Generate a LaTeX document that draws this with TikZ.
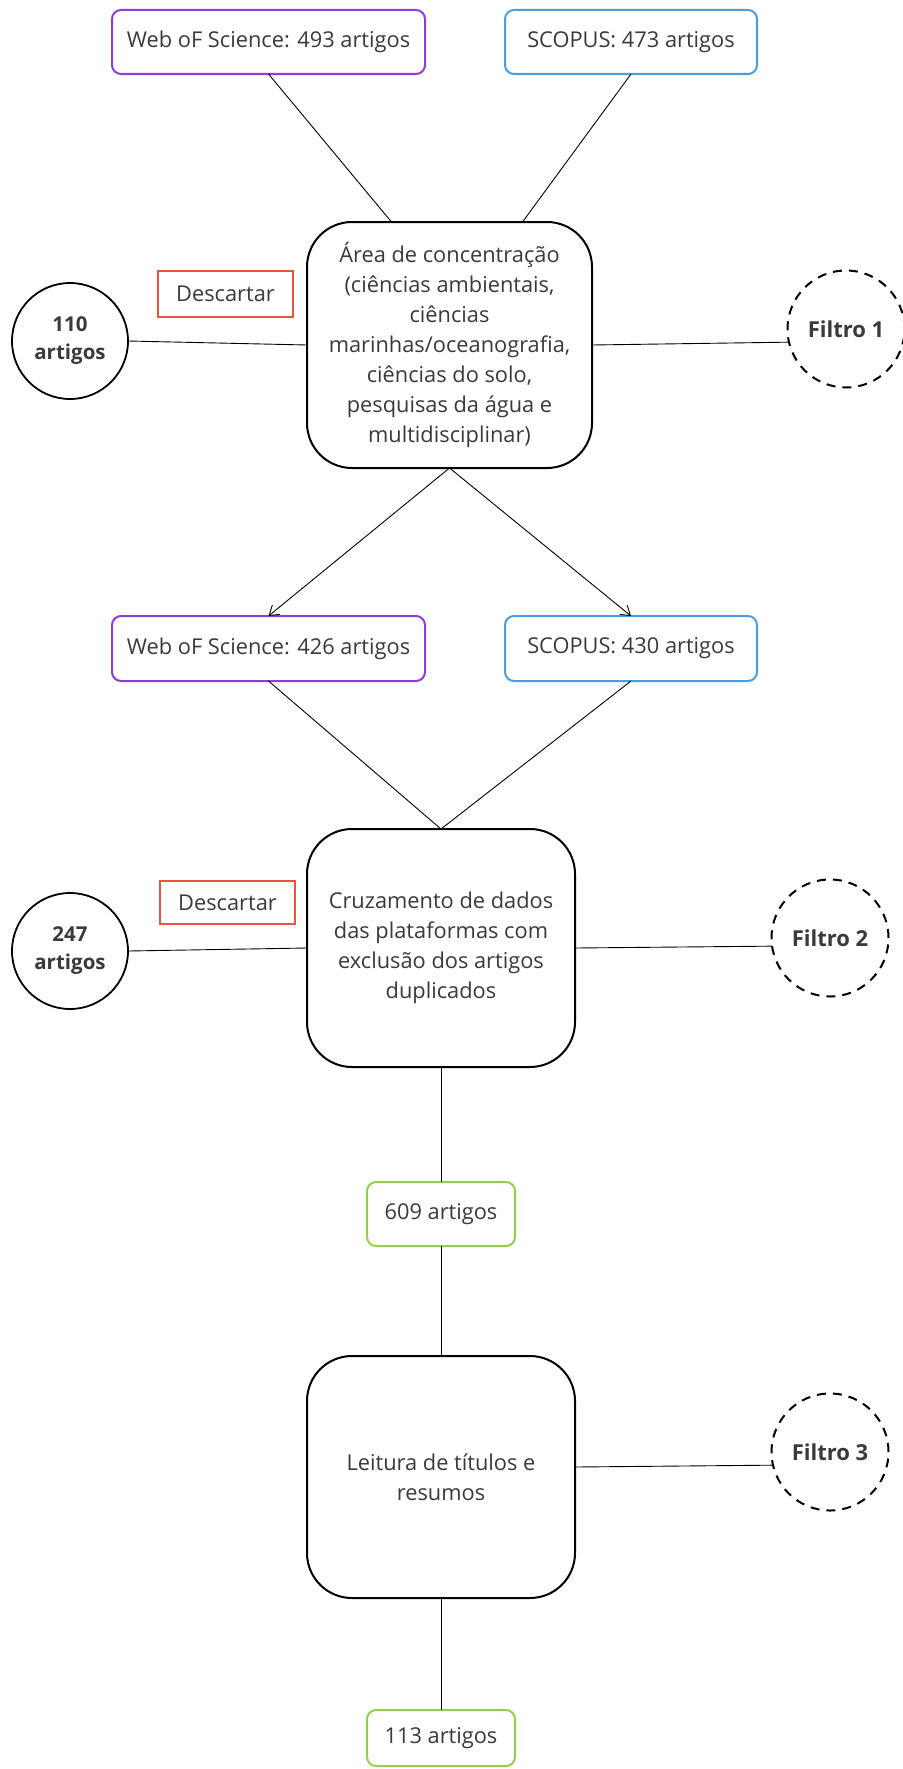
\documentclass[tikz,border=0pt]{standalone}
\usepackage{fontspec}
\setmainfont{Open Sans}
\usetikzlibrary{arrows.meta,calc}
\definecolor{txt}{HTML}{3A3A3A}
\definecolor{wos}{HTML}{8B3FD9}
\definecolor{scop}{HTML}{4A9FDB}
\definecolor{desc}{HTML}{E8553D}
\definecolor{grn}{HTML}{8FD14F}
\begin{document}
\begin{tikzpicture}[x=1pt,y=-1pt,
  every node/.style={text=txt, font=\fontsize{21.8}{30}\selectfont, inner sep=0pt, outer sep=0pt},
  dbbox/.style={draw, line width=2pt, rounded corners=9pt, align=center},
  mainbox/.style={draw=black, line width=2pt, rounded corners=45pt, align=center, minimum width=268pt},
  descbox/.style={draw=desc, line width=1.6pt, minimum width=135pt, minimum height=45pt},
  countc/.style={draw=black, line width=1.8pt, circle, minimum size=116pt, align=center, font=\bfseries\fontsize{20.5}{28}\selectfont},
  filtc/.style={draw=black, line width=2pt, circle, minimum size=117pt, dash pattern=on 9pt off 7pt, font=\bfseries\fontsize{22}{28}\selectfont},
  conn/.style={draw=black, line width=0.9pt},
  arr/.style={conn, -{Straight Barb[length=9pt,width=12pt,line width=0.9pt]}}
]
\useasboundingbox (0,0) rectangle (902,1769);
\fill[white] (0,0) rectangle (902,1769);

% top row
\node[dbbox, draw=wos, minimum width=313pt, minimum height=64pt] (wos1) at (268.5,42) {Web oF Science: 493 artigos};
\node[dbbox, draw=scop, minimum width=252pt, minimum height=64pt] (scop1) at (631,42) {SCOPUS: 473 artigos};

% first filter
\node[mainbox, minimum width=285pt, minimum height=246pt] (main1) at (449.5,345)
  {Área de concentração\\(ciências ambientais,\\ciências\\marinhas/oceanografia,\\ciências do solo,\\pesquisas da água e\\multidisciplinar)};
\node[descbox, minimum height=46pt] (desc1) at (225.5,294) {Descartar};
\node[countc] (c110) at (70,341) {110\\artigos};
\node[filtc] (f1) at (846,329) {Filtro 1};

% second row
\node[dbbox, draw=wos, minimum width=313pt, minimum height=65pt] (wos2) at (268.5,648.5) {Web oF Science: 426 artigos};
\node[dbbox, draw=scop, minimum width=252pt, minimum height=65pt] (scop2) at (631,648.5) {SCOPUS: 430 artigos};

% second filter
\node[mainbox, minimum height=238pt] (main2) at (441,948)
  {Cruzamento de dados\\das plataformas com\\exclusão dos artigos\\duplicados};
\node[descbox, minimum height=43pt] (desc2) at (227.5,902.5) {Descartar};
\node[countc] (c247) at (70,951) {247\\artigos};
\node[filtc] (f2) at (830,938) {Filtro 2};

% results and third filter
\node[dbbox, draw=grn, minimum width=148pt, minimum height=64pt] (r609) at (441,1214) {609 artigos};
\node[mainbox, minimum height=242pt] (main3) at (441,1477) {Leitura de títulos e\\resumos};
\node[filtc] (f3) at (830,1452) {Filtro 3};
\node[dbbox, draw=grn, minimum width=148pt, minimum height=56pt] (r113) at (441,1738) {113 artigos};

% connectors
\draw[conn] (wos1.south) -- ([xshift=-58pt]main1.north);
\draw[conn] (scop1.south) -- ([xshift=73pt]main1.north);
\draw[conn] (c110.east) -- (main1.west);
\draw[conn] (main1.east) -- (f1.193);
\draw[arr] (main1.south) -- (wos2.north);
\draw[arr] (main1.south) -- (scop2.north);
\draw[conn] (wos2.south) -- (main2.north);
\draw[conn] (scop2.south) -- (main2.north);
\draw[conn] (c247.east) -- (main2.west);
\draw[conn] (main2.east) -- (f2.188);
\draw[conn] (main2.south) -- (r609.north);
\draw[conn] (r609.south) -- (main3.north);
\draw[conn] ([yshift=10pt]main3.east) -- (f3.193);
\draw[conn] (main3.south) -- (r113.north);
\end{tikzpicture}
\end{document}
